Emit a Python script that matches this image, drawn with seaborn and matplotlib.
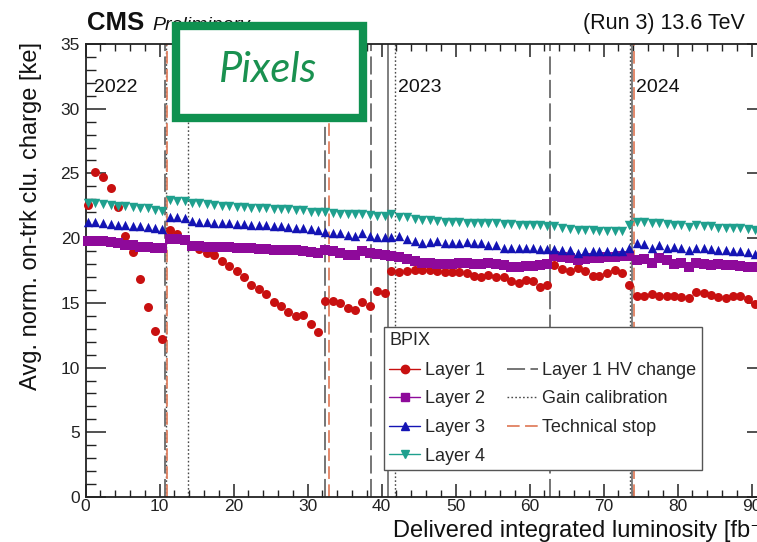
import matplotlib
matplotlib.use("Agg")
import matplotlib.pyplot as plt
from matplotlib.lines import Line2D
from matplotlib.patches import Rectangle
from matplotlib.ticker import MultipleLocator
import seaborn as sns
import pandas as pd

# ---------------- data ----------------
lumi = [0.3, 1.3, 2.4, 3.4, 4.4, 5.4, 6.4, 7.4, 8.4, 9.4, 10.4,
        11.4, 12.4, 13.4, 14.4, 15.4, 16.4, 17.4, 18.4, 19.4, 20.4, 21.4, 22.4, 23.4, 24.4, 25.4,
        26.4, 27.4, 28.4, 29.4, 30.4, 31.4,
        32.4, 33.4, 34.4, 35.4, 36.4, 37.4, 38.4, 39.4, 40.5,
        41.3, 42.4, 43.4, 44.5, 45.5, 46.5, 47.5, 48.5, 49.5, 50.5, 51.5, 52.5, 53.4, 54.4, 55.4,
        56.5, 57.5, 58.5, 59.5, 60.4, 61.4, 62.4,
        63.3, 64.4, 65.4, 66.5, 67.5, 68.5, 69.4, 70.4, 71.5, 72.5, 73.4,
        74.5, 75.5, 76.5, 77.5, 78.5, 79.5, 80.5, 81.5, 82.5, 83.5, 84.5, 85.5, 86.5, 87.5, 88.4,
        89.5, 90.5]

layer1 = [22.55, 25.1, 24.75, 23.9, 22.4, 20.2, 18.9, 16.85, 14.65, 12.85, 12.2,
          20.6, 20.35, 19.9, 19.5, 19.15, 18.85, 18.7, 18.25, 17.85, 17.5, 17.0, 16.4, 16.05, 15.65,
          15.1, 14.75, 14.3, 14.0, 14.1, 13.4, 12.75,
          15.15, 15.15, 15.0, 14.6, 14.45, 15.1, 14.75, 15.9, 15.75,
          17.5, 17.4, 17.5, 17.55, 17.55, 17.55, 17.5, 17.4, 17.35, 17.4, 17.3, 17.1, 17.0, 17.15,
          17.0, 17.0, 16.7, 16.5, 16.75, 16.7, 16.2, 16.35,
          17.9, 17.65, 17.5, 17.7, 17.45, 17.1, 17.1, 17.3, 17.55, 17.3, 16.35,
          15.55, 15.55, 15.65, 15.55, 15.55, 15.55, 15.45, 15.35, 15.85, 15.8, 15.6, 15.45, 15.35,
          15.5, 15.5, 15.3, 14.95]

layer2 = [19.8, 19.8, 19.75, 19.7, 19.6, 19.5, 19.45, 19.35, 19.3, 19.25, 19.22,
          19.95, 19.95, 19.85, 19.4, 19.38, 19.35, 19.33, 19.3, 19.28, 19.25, 19.22, 19.2, 19.17,
          19.15, 19.12, 19.1, 19.07, 19.05, 19.0, 18.9, 18.82,
          19.09, 19.04, 18.83, 18.7, 18.7, 19.0, 18.83, 18.78, 18.7,
          18.65, 18.52, 18.37, 18.24, 18.1, 18.06, 17.98, 17.98, 18.0, 18.06, 18.06, 18.0, 18.0,
          18.06, 18.0, 17.93, 17.75, 17.8, 17.88, 17.88, 17.93, 17.98,
          18.62, 18.52, 18.44, 18.31, 18.39, 18.44, 18.49, 18.52, 18.57, 18.62, 18.62,
          18.31, 18.39, 18.06, 18.44, 18.31, 18.0, 18.06, 17.8, 18.06, 17.98, 17.93, 17.98, 17.93,
          17.93, 17.85, 17.8, 17.75]

layer3 = [21.25, 21.25, 21.15, 21.1, 21.05, 21.0, 20.95, 20.9, 20.85, 20.75, 20.7,
          21.6, 21.6, 21.55, 21.3, 21.28, 21.25, 21.2, 21.18, 21.15, 21.12, 21.1, 21.05, 21.0,
          20.98, 20.95, 20.9, 20.85, 20.82, 20.8, 20.7, 20.65,
          20.45, 20.38, 20.38, 20.25, 20.17, 20.38, 20.17, 20.12, 20.07,
          20.07, 20.17, 19.91, 19.81, 19.65, 19.73, 19.81, 19.6, 19.6, 19.6, 19.73, 19.6, 19.6,
          19.47, 19.47, 19.27, 19.27, 19.27, 19.22, 19.22, 19.17, 19.17,
          19.14, 19.09, 19.09, 18.88, 19.01, 19.01, 19.01, 19.01, 19.01, 19.01, 19.27,
          19.6, 19.53, 19.27, 19.47, 19.27, 19.35, 19.27, 19.09, 19.22, 19.22, 19.17, 19.09, 19.09,
          19.01, 19.01, 18.96, 18.78]

layer4 = [22.75, 22.7, 22.65, 22.55, 22.5, 22.45, 22.4, 22.35, 22.3, 22.2, 22.1,
          22.95, 22.9, 22.87, 22.74, 22.7, 22.62, 22.57, 22.51, 22.49, 22.44, 22.39, 22.36, 22.31,
          22.31, 22.26, 22.23, 22.23, 22.18, 22.18, 22.05, 22.0,
          22.0, 21.95, 21.9, 21.85, 21.85, 21.85, 21.75, 21.7, 21.7,
          21.9, 21.6, 21.6, 21.45, 21.4, 21.37, 21.33, 21.28, 21.25, 21.25, 21.2, 21.2, 21.2,
          21.15, 21.15, 21.1, 21.1, 21.05, 21.02, 21.02, 21.0, 20.97,
          20.9, 20.8, 20.72, 20.65, 20.6, 20.6, 20.58, 20.58, 20.58, 20.55, 21.0,
          21.28, 21.25, 21.15, 21.2, 21.08, 21.02, 20.98, 20.85, 20.98, 20.92, 20.92, 20.82, 20.82,
          20.82, 20.82, 20.72, 20.63]

layer_names = ["Layer 1", "Layer 2", "Layer 3", "Layer 4"]

hv_change = [10.7, 32.4, 38.6, 62.8]
gain_calib = [10.85, 13.8, 41.8, 73.5]
tech_stop = [10.95, 32.95, 74.1]
year_bounds = [40.9, 73.8]
year_labels = ["2022", "2023", "2024"]
year_label_x = [1.15, 42.2, 74.4]

# ---------------- style ----------------
sns.set_style("ticks")
plt.rcParams["font.family"] = ["Liberation Sans", "DejaVu Sans"]

colors = {"Layer 1": "#c81010", "Layer 2": "#8e0a9a", "Layer 3": "#1414b4", "Layer 4": "#1fa08e"}
markers = {"Layer 1": "o", "Layer 2": "s", "Layer 3": "^", "Layer 4": "v"}
sizes = {"Layer 1": 42, "Layer 2": 50, "Layer 3": 46, "Layer 4": 46}

W, H = 757, 542
fig = plt.figure(figsize=(W / 100, H / 100), dpi=100)
x0, x1, y0, y1 = 85.5, 767.0, 44.0, 497.0
ax = fig.add_axes([x0 / W, 1 - y1 / H, (x1 - x0) / W, (y1 - y0) / H])

# vertical markers
for xv in year_bounds:
    ax.axvline(xv, color="#6a6a6a", lw=1.2, zorder=1)
for xv in hv_change:
    ax.axvline(xv, color="#6a6a6a", lw=1.3, dashes=(10, 3), zorder=1)
for xv in gain_calib:
    ax.axvline(xv, color="#4a4a4a", lw=1.0, dashes=(1.2, 1.6), zorder=1)
for xv in tech_stop:
    ax.axvline(xv, color="#e08060", lw=1.3, dashes=(7, 3), zorder=1)

# data
for name, vals in zip(layer_names, [layer1, layer2, layer3, layer4]):
    df = pd.DataFrame({"lumi": lumi, "charge": vals})
    sns.scatterplot(data=df, x="lumi", y="charge", ax=ax, color=colors[name],
                    marker=markers[name], s=sizes[name], linewidth=0, legend=False,
                    zorder=3, clip_on=False)

ax.set_xlim(0, (x1 - x0) / ((751.7 - x0) / 90.0))
ax.set_ylim(0, 35)
ax.set_xlabel("")
ax.set_ylabel("")

# ticks ROOT-like
ax.xaxis.set_major_locator(MultipleLocator(10))
ax.xaxis.set_minor_locator(MultipleLocator(2))
ax.yaxis.set_major_locator(MultipleLocator(5))
ax.yaxis.set_minor_locator(MultipleLocator(1))
ax.tick_params(axis="both", which="both", direction="in", top=True, right=True,
               colors="#222222", labelcolor="#222222")
ax.tick_params(axis="x", which="major", length=9.5, width=1.1, labelsize=12.5, pad=1.5)
ax.tick_params(axis="x", which="minor", length=5, width=1.0)
ax.tick_params(axis="y", which="major", length=14.5, width=1.1, labelsize=12.5, pad=4)
ax.tick_params(axis="y", which="minor", length=7.5, width=1.0)
for sp in ax.spines.values():
    sp.set_color("#222222")
    sp.set_linewidth(1.3)

# year labels
for xl, lab in zip(year_label_x, year_labels):
    ax.text(xl, 31.65, lab, fontsize=14, ha="left", va="center", color="#111111")

# axis labels
fig.text(393 / W, 1 - 537 / H, "Delivered integrated luminosity [fb\u207b\u00b9]",
         fontsize=17, ha="left", va="baseline", color="#111111")
fig.text(31 / W, 1 - 42 / H, "Avg. norm. on-trk clu. charge [ke]", fontsize=17,
         rotation=90, ha="center", va="top", color="#111111")

# header
fig.text(87 / W, 1 - 23 / H, "CMS", fontsize=18.5, fontweight="bold", ha="left",
         va="center", color="#111111")
fig.text(152 / W, 1 - 25 / H, "Preliminary", fontsize=14, fontstyle="italic",
         ha="left", va="center", color="#111111")
fig.text(745 / W, 1 - 23 / H, "(Run 3) 13.6 TeV", fontsize=15.5, ha="right",
         va="center", color="#111111")

# "Pixels" label box
bx0, bx1, by0, by1 = 176, 363, 26, 118
fig.patches.append(Rectangle((bx0 / W, 1 - by1 / H), (bx1 - bx0) / W, (by1 - by0) / H,
                             transform=fig.transFigure, facecolor="white",
                             edgecolor="#0f9150", linewidth=6, zorder=10))
fig.text(268 / W, 1 - 70 / H, "Pixels", fontsize=30, fontstyle="italic", color="#1a9150",
         ha="center", va="center", zorder=11, family=["Lato", "DejaVu Sans"])

# legend
handles = []
for name in layer_names:
    handles.append(Line2D([], [], color=colors[name], marker=markers[name], markersize=6,
                          lw=1.0, label=name))
handles.append(Line2D([], [], color="#6a6a6a", lw=1.3, dashes=(10, 3), label="Layer 1 HV change"))
handles.append(Line2D([], [], color="#4a4a4a", lw=1.0, dashes=(1.2, 1.6), label="Gain calibration"))
handles.append(Line2D([], [], color="#e08060", lw=1.3, dashes=(7, 3), label="Technical stop"))

lx0 = (384 - x0) / (x1 - x0)
lx1 = (702 - x0) / (x1 - x0)
ly0 = (y1 - 469) / (y1 - y0)
ly1 = (y1 - 327) / (y1 - y0)
leg = ax.legend(handles=handles, ncol=2, loc="upper left",
                bbox_to_anchor=(lx0, ly0, lx1 - lx0, ly1 - ly0), mode="expand",
                title="BPIX", alignment="left", fontsize=13, title_fontsize=13,
                frameon=True, fancybox=False, edgecolor="#555555", framealpha=1,
                borderpad=0.3, handlelength=1.7, handletextpad=0.25,
                columnspacing=0.8, labelspacing=0.64, borderaxespad=0)
leg.get_frame().set_linewidth(1.0)
leg._legend_box.sep = 9
leg.set_zorder(6)

fig.savefig("out.png", dpi=100)
